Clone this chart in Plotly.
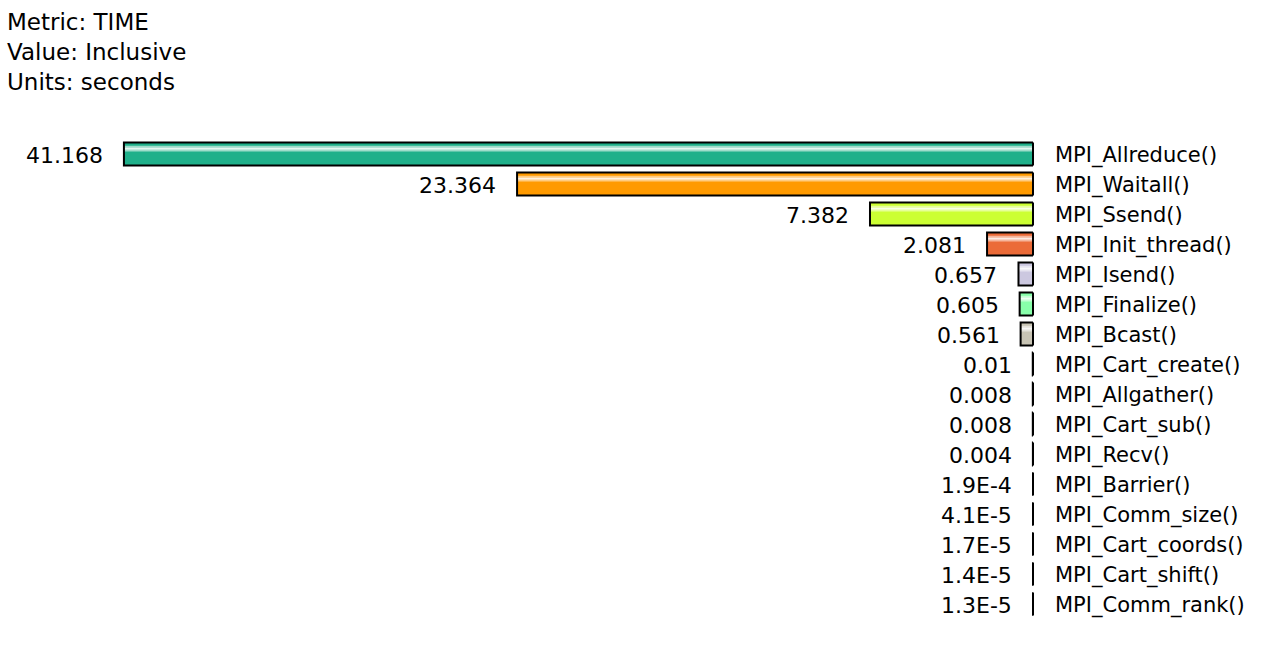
import plotly.graph_objects as go

functions = ["MPI_Allreduce()", "MPI_Waitall()", "MPI_Ssend()", "MPI_Init_thread()",
             "MPI_Isend()", "MPI_Finalize()", "MPI_Bcast()", "MPI_Cart_create()",
             "MPI_Allgather()", "MPI_Cart_sub()", "MPI_Recv()", "MPI_Barrier()",
             "MPI_Comm_size()", "MPI_Cart_coords()", "MPI_Cart_shift()", "MPI_Comm_rank()"]
values = [41.168, 23.364, 7.382, 2.081, 0.657, 0.605, 0.561, 0.01,
          0.008, 0.008, 0.004, 1.9e-4, 4.1e-5, 1.7e-5, 1.4e-5, 1.3e-5]
value_labels = ["41.168", "23.364", "7.382", "2.081", "0.657", "0.605", "0.561", "0.01",
                "0.008", "0.008", "0.004", "1.9E-4", "4.1E-5", "1.7E-5", "1.4E-5", "1.3E-5"]
bar_colors = ["#1FB08A", "#FF9A00", "#CCFF33", "#EB6B38", "#CCC8E0", "#88FFAA", "#C8C4B4",
              "#D0D0D0", "#D0D0D0", "#D0D0D0", "#D0D0D0", "#D0D0D0", "#D0D0D0", "#D0D0D0",
              "#D0D0D0", "#D0D0D0"]
stripe_colors = ["#9EDCCA", "#FFCC80", "#E6FF99", "#F5B59B", "#E6E4F0", "#C4FFD5", "#E4E2DA",
                 "#E8E8E8", "#E8E8E8", "#E8E8E8", "#E8E8E8", "#E8E8E8", "#E8E8E8", "#E8E8E8",
                 "#E8E8E8", "#E8E8E8"]
header = ["Metric: TIME", "Value: Inclusive", "Units: seconds"]

rows = list(range(len(functions)))
FONT = "DejaVu Sans"

fig = go.Figure()
# main fill
fig.add_trace(go.Bar(x=values, y=rows, orientation="h", width=0.76,
                     marker=dict(color=bar_colors, line=dict(width=0)),
                     hoverinfo="skip"))
# light highlight band
fig.add_trace(go.Bar(x=values, y=rows, orientation="h", width=0.19, offset=-0.273,
                     marker=dict(color=stripe_colors, line=dict(width=0)),
                     hoverinfo="skip"))
# bright center of highlight
fig.add_trace(go.Bar(x=values, y=rows, orientation="h", width=0.06, offset=-0.21,
                     marker=dict(color="rgba(255,255,255,0.75)", line=dict(width=0)),
                     hoverinfo="skip"))
# outline
fig.add_trace(go.Bar(x=values, y=rows, orientation="h", width=0.76,
                     marker=dict(color="rgba(0,0,0,0)", line=dict(color="black", width=2)),
                     hoverinfo="skip"))
# base edge of every bar (keeps the near-zero bars visible as a black tick)
fig.add_trace(go.Scatter(x=[0] * len(rows), y=rows, mode="markers",
                         marker=dict(symbol="line-ns", size=16.4,
                                     line=dict(color="black", width=2)),
                         hoverinfo="skip", cliponaxis=False))

annotations = []
for r, v, lab, name in zip(rows, values, value_labels, functions):
    annotations.append(dict(x=v, y=r, xref="x", yref="y", text=lab, showarrow=False,
                            xanchor="right", yanchor="middle", xshift=-19, yshift=-1,
                            font=dict(family=FONT, size=22, color="black")))
    annotations.append(dict(x=0, y=r, xref="x", yref="y", text=name, showarrow=False,
                            xanchor="left", yanchor="middle", xshift=20, yshift=-1,
                            font=dict(family=FONT, size=21, color="black")))

annotations.append(dict(x=0, y=1.274, xref="paper", yref="paper",
                        text="<br>".join(header), showarrow=False, align="left",
                        xanchor="left", yanchor="top", xshift=5,
                        font=dict(family=FONT, size=23, color="black")))

fig.update_layout(
    width=1282, height=650,
    margin=dict(l=0, r=249, t=139, b=31),
    paper_bgcolor="white", plot_bgcolor="white",
    barmode="overlay", showlegend=False,
    xaxis=dict(range=[46.78, 0], visible=False, fixedrange=True),
    yaxis=dict(range=[15.5, -0.5], visible=False, fixedrange=True),
    annotations=annotations,
)

fig.write_html("out.html")
